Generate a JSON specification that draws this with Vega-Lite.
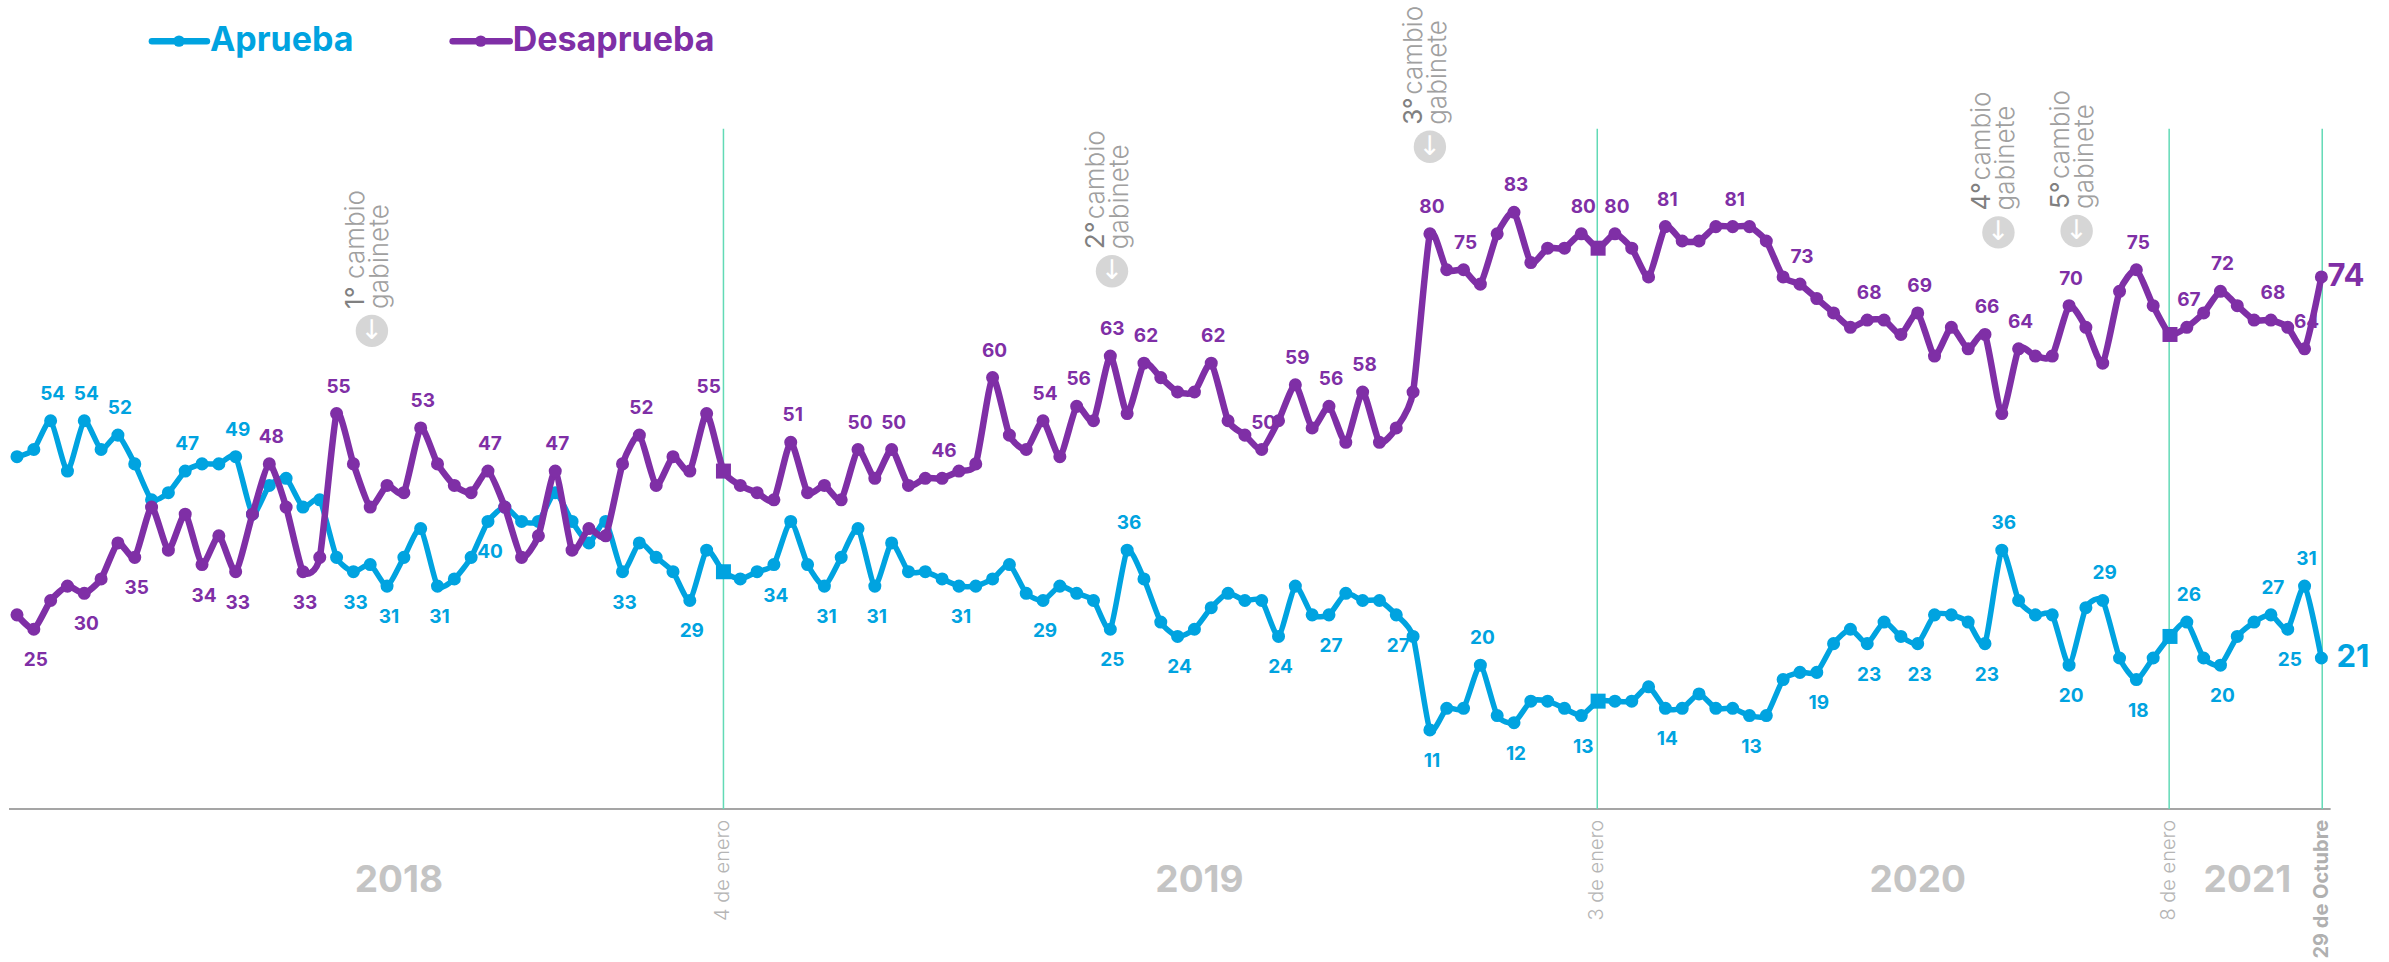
{"$schema":"https://vega.github.io/schema/vega-lite/v6.json","width":2389,"height":962,"padding":0,"autosize":{"type":"none"},"background":"white","config":{"view":{"stroke":null},"text":{"font":"Inter"}},
"datasets":{
"serie":[
{"n":0,"serie":"Aprueba","valor":49},{"n":1,"serie":"Aprueba","valor":50},{"n":2,"serie":"Aprueba","valor":54,"lado":"arriba"},{"n":3,"serie":"Aprueba","valor":47},{"n":4,"serie":"Aprueba","valor":54,"lado":"arriba"},{"n":5,"serie":"Aprueba","valor":50},{"n":6,"serie":"Aprueba","valor":52,"lado":"arriba"},{"n":7,"serie":"Aprueba","valor":48},{"n":8,"serie":"Aprueba","valor":43},{"n":9,"serie":"Aprueba","valor":44},{"n":10,"serie":"Aprueba","valor":47,"lado":"arriba"},{"n":11,"serie":"Aprueba","valor":48},{"n":12,"serie":"Aprueba","valor":48},{"n":13,"serie":"Aprueba","valor":49,"lado":"arriba"},{"n":14,"serie":"Aprueba","valor":41},{"n":15,"serie":"Aprueba","valor":45},{"n":16,"serie":"Aprueba","valor":46},{"n":17,"serie":"Aprueba","valor":42},{"n":18,"serie":"Aprueba","valor":43},{"n":19,"serie":"Aprueba","valor":35},{"n":20,"serie":"Aprueba","valor":33,"lado":"abajo"},{"n":21,"serie":"Aprueba","valor":34},{"n":22,"serie":"Aprueba","valor":31,"lado":"abajo"},{"n":23,"serie":"Aprueba","valor":35},{"n":24,"serie":"Aprueba","valor":39},{"n":25,"serie":"Aprueba","valor":31,"lado":"abajo"},{"n":26,"serie":"Aprueba","valor":32},{"n":27,"serie":"Aprueba","valor":35},{"n":28,"serie":"Aprueba","valor":40,"lado":"abajo"},{"n":29,"serie":"Aprueba","valor":42},{"n":30,"serie":"Aprueba","valor":40},{"n":31,"serie":"Aprueba","valor":40},{"n":32,"serie":"Aprueba","valor":44},{"n":33,"serie":"Aprueba","valor":40},{"n":34,"serie":"Aprueba","valor":37},{"n":35,"serie":"Aprueba","valor":40},{"n":36,"serie":"Aprueba","valor":33,"lado":"abajo"},{"n":37,"serie":"Aprueba","valor":37},{"n":38,"serie":"Aprueba","valor":35},{"n":39,"serie":"Aprueba","valor":33},{"n":40,"serie":"Aprueba","valor":29,"lado":"abajo"},{"n":41,"serie":"Aprueba","valor":36},{"n":42,"serie":"Aprueba","valor":33},{"n":43,"serie":"Aprueba","valor":32},{"n":44,"serie":"Aprueba","valor":33},{"n":45,"serie":"Aprueba","valor":34,"lado":"abajo"},{"n":46,"serie":"Aprueba","valor":40},{"n":47,"serie":"Aprueba","valor":34},{"n":48,"serie":"Aprueba","valor":31,"lado":"abajo"},{"n":49,"serie":"Aprueba","valor":35},{"n":50,"serie":"Aprueba","valor":39},{"n":51,"serie":"Aprueba","valor":31,"lado":"abajo"},{"n":52,"serie":"Aprueba","valor":37},{"n":53,"serie":"Aprueba","valor":33},{"n":54,"serie":"Aprueba","valor":33},{"n":55,"serie":"Aprueba","valor":32},{"n":56,"serie":"Aprueba","valor":31,"lado":"abajo"},{"n":57,"serie":"Aprueba","valor":31},{"n":58,"serie":"Aprueba","valor":32},{"n":59,"serie":"Aprueba","valor":34},{"n":60,"serie":"Aprueba","valor":30},{"n":61,"serie":"Aprueba","valor":29,"lado":"abajo"},{"n":62,"serie":"Aprueba","valor":31},{"n":63,"serie":"Aprueba","valor":30},{"n":64,"serie":"Aprueba","valor":29},{"n":65,"serie":"Aprueba","valor":25,"lado":"abajo"},{"n":66,"serie":"Aprueba","valor":36,"lado":"arriba"},{"n":67,"serie":"Aprueba","valor":32},{"n":68,"serie":"Aprueba","valor":26},{"n":69,"serie":"Aprueba","valor":24,"lado":"abajo"},{"n":70,"serie":"Aprueba","valor":25},{"n":71,"serie":"Aprueba","valor":28},{"n":72,"serie":"Aprueba","valor":30},{"n":73,"serie":"Aprueba","valor":29},{"n":74,"serie":"Aprueba","valor":29},{"n":75,"serie":"Aprueba","valor":24,"lado":"abajo"},{"n":76,"serie":"Aprueba","valor":31},{"n":77,"serie":"Aprueba","valor":27},{"n":78,"serie":"Aprueba","valor":27,"lado":"abajo"},{"n":79,"serie":"Aprueba","valor":30},{"n":80,"serie":"Aprueba","valor":29},{"n":81,"serie":"Aprueba","valor":29},{"n":82,"serie":"Aprueba","valor":27,"lado":"abajo"},{"n":83,"serie":"Aprueba","valor":24},{"n":84,"serie":"Aprueba","valor":11,"lado":"abajo"},{"n":85,"serie":"Aprueba","valor":14},{"n":86,"serie":"Aprueba","valor":14},{"n":87,"serie":"Aprueba","valor":20,"lado":"arriba"},{"n":88,"serie":"Aprueba","valor":13},{"n":89,"serie":"Aprueba","valor":12,"lado":"abajo"},{"n":90,"serie":"Aprueba","valor":15},{"n":91,"serie":"Aprueba","valor":15},{"n":92,"serie":"Aprueba","valor":14},{"n":93,"serie":"Aprueba","valor":13,"lado":"abajo"},{"n":94,"serie":"Aprueba","valor":15},{"n":95,"serie":"Aprueba","valor":15},{"n":96,"serie":"Aprueba","valor":15},{"n":97,"serie":"Aprueba","valor":17},{"n":98,"serie":"Aprueba","valor":14,"lado":"abajo"},{"n":99,"serie":"Aprueba","valor":14},{"n":100,"serie":"Aprueba","valor":16},{"n":101,"serie":"Aprueba","valor":14},{"n":102,"serie":"Aprueba","valor":14},{"n":103,"serie":"Aprueba","valor":13,"lado":"abajo"},{"n":104,"serie":"Aprueba","valor":13},{"n":105,"serie":"Aprueba","valor":18},{"n":106,"serie":"Aprueba","valor":19},{"n":107,"serie":"Aprueba","valor":19,"lado":"abajo"},{"n":108,"serie":"Aprueba","valor":23},{"n":109,"serie":"Aprueba","valor":25},{"n":110,"serie":"Aprueba","valor":23,"lado":"abajo"},{"n":111,"serie":"Aprueba","valor":26},{"n":112,"serie":"Aprueba","valor":24},{"n":113,"serie":"Aprueba","valor":23,"lado":"abajo"},{"n":114,"serie":"Aprueba","valor":27},{"n":115,"serie":"Aprueba","valor":27},{"n":116,"serie":"Aprueba","valor":26},{"n":117,"serie":"Aprueba","valor":23,"lado":"abajo"},{"n":118,"serie":"Aprueba","valor":36,"lado":"arriba"},{"n":119,"serie":"Aprueba","valor":29},{"n":120,"serie":"Aprueba","valor":27},{"n":121,"serie":"Aprueba","valor":27},{"n":122,"serie":"Aprueba","valor":20,"lado":"abajo"},{"n":123,"serie":"Aprueba","valor":28},{"n":124,"serie":"Aprueba","valor":29,"lado":"arriba"},{"n":125,"serie":"Aprueba","valor":21},{"n":126,"serie":"Aprueba","valor":18,"lado":"abajo"},{"n":127,"serie":"Aprueba","valor":21},{"n":128,"serie":"Aprueba","valor":24},{"n":129,"serie":"Aprueba","valor":26,"lado":"arriba"},{"n":130,"serie":"Aprueba","valor":21},{"n":131,"serie":"Aprueba","valor":20,"lado":"abajo"},{"n":132,"serie":"Aprueba","valor":24},{"n":133,"serie":"Aprueba","valor":26},{"n":134,"serie":"Aprueba","valor":27,"lado":"arriba"},{"n":135,"serie":"Aprueba","valor":25,"lado":"abajo"},{"n":136,"serie":"Aprueba","valor":31,"lado":"arriba"},{"n":137,"serie":"Aprueba","valor":21,"lado":"final"},
{"n":0,"serie":"Desaprueba","valor":27},{"n":1,"serie":"Desaprueba","valor":25,"lado":"abajo"},{"n":2,"serie":"Desaprueba","valor":29},{"n":3,"serie":"Desaprueba","valor":31},{"n":4,"serie":"Desaprueba","valor":30,"lado":"abajo"},{"n":5,"serie":"Desaprueba","valor":32},{"n":6,"serie":"Desaprueba","valor":37},{"n":7,"serie":"Desaprueba","valor":35,"lado":"abajo"},{"n":8,"serie":"Desaprueba","valor":42},{"n":9,"serie":"Desaprueba","valor":36},{"n":10,"serie":"Desaprueba","valor":41},{"n":11,"serie":"Desaprueba","valor":34,"lado":"abajo"},{"n":12,"serie":"Desaprueba","valor":38},{"n":13,"serie":"Desaprueba","valor":33,"lado":"abajo"},{"n":14,"serie":"Desaprueba","valor":41},{"n":15,"serie":"Desaprueba","valor":48,"lado":"arriba"},{"n":16,"serie":"Desaprueba","valor":42},{"n":17,"serie":"Desaprueba","valor":33,"lado":"abajo"},{"n":18,"serie":"Desaprueba","valor":35},{"n":19,"serie":"Desaprueba","valor":55,"lado":"arriba"},{"n":20,"serie":"Desaprueba","valor":48},{"n":21,"serie":"Desaprueba","valor":42},{"n":22,"serie":"Desaprueba","valor":45},{"n":23,"serie":"Desaprueba","valor":44},{"n":24,"serie":"Desaprueba","valor":53,"lado":"arriba"},{"n":25,"serie":"Desaprueba","valor":48},{"n":26,"serie":"Desaprueba","valor":45},{"n":27,"serie":"Desaprueba","valor":44},{"n":28,"serie":"Desaprueba","valor":47,"lado":"arriba"},{"n":29,"serie":"Desaprueba","valor":42},{"n":30,"serie":"Desaprueba","valor":35},{"n":31,"serie":"Desaprueba","valor":38},{"n":32,"serie":"Desaprueba","valor":47,"lado":"arriba"},{"n":33,"serie":"Desaprueba","valor":36},{"n":34,"serie":"Desaprueba","valor":39},{"n":35,"serie":"Desaprueba","valor":38},{"n":36,"serie":"Desaprueba","valor":48},{"n":37,"serie":"Desaprueba","valor":52,"lado":"arriba"},{"n":38,"serie":"Desaprueba","valor":45},{"n":39,"serie":"Desaprueba","valor":49},{"n":40,"serie":"Desaprueba","valor":47},{"n":41,"serie":"Desaprueba","valor":55,"lado":"arriba"},{"n":42,"serie":"Desaprueba","valor":47},{"n":43,"serie":"Desaprueba","valor":45},{"n":44,"serie":"Desaprueba","valor":44},{"n":45,"serie":"Desaprueba","valor":43},{"n":46,"serie":"Desaprueba","valor":51,"lado":"arriba"},{"n":47,"serie":"Desaprueba","valor":44},{"n":48,"serie":"Desaprueba","valor":45},{"n":49,"serie":"Desaprueba","valor":43},{"n":50,"serie":"Desaprueba","valor":50,"lado":"arriba"},{"n":51,"serie":"Desaprueba","valor":46},{"n":52,"serie":"Desaprueba","valor":50,"lado":"arriba"},{"n":53,"serie":"Desaprueba","valor":45},{"n":54,"serie":"Desaprueba","valor":46},{"n":55,"serie":"Desaprueba","valor":46,"lado":"arriba"},{"n":56,"serie":"Desaprueba","valor":47},{"n":57,"serie":"Desaprueba","valor":48},{"n":58,"serie":"Desaprueba","valor":60,"lado":"arriba"},{"n":59,"serie":"Desaprueba","valor":52},{"n":60,"serie":"Desaprueba","valor":50},{"n":61,"serie":"Desaprueba","valor":54,"lado":"arriba"},{"n":62,"serie":"Desaprueba","valor":49},{"n":63,"serie":"Desaprueba","valor":56,"lado":"arriba"},{"n":64,"serie":"Desaprueba","valor":54},{"n":65,"serie":"Desaprueba","valor":63,"lado":"arriba"},{"n":66,"serie":"Desaprueba","valor":55},{"n":67,"serie":"Desaprueba","valor":62,"lado":"arriba"},{"n":68,"serie":"Desaprueba","valor":60},{"n":69,"serie":"Desaprueba","valor":58},{"n":70,"serie":"Desaprueba","valor":58},{"n":71,"serie":"Desaprueba","valor":62,"lado":"arriba"},{"n":72,"serie":"Desaprueba","valor":54},{"n":73,"serie":"Desaprueba","valor":52},{"n":74,"serie":"Desaprueba","valor":50,"lado":"arriba"},{"n":75,"serie":"Desaprueba","valor":54},{"n":76,"serie":"Desaprueba","valor":59,"lado":"arriba"},{"n":77,"serie":"Desaprueba","valor":53},{"n":78,"serie":"Desaprueba","valor":56,"lado":"arriba"},{"n":79,"serie":"Desaprueba","valor":51},{"n":80,"serie":"Desaprueba","valor":58,"lado":"arriba"},{"n":81,"serie":"Desaprueba","valor":51},{"n":82,"serie":"Desaprueba","valor":53},{"n":83,"serie":"Desaprueba","valor":58},{"n":84,"serie":"Desaprueba","valor":80,"lado":"arriba"},{"n":85,"serie":"Desaprueba","valor":75},{"n":86,"serie":"Desaprueba","valor":75,"lado":"arriba"},{"n":87,"serie":"Desaprueba","valor":73},{"n":88,"serie":"Desaprueba","valor":80},{"n":89,"serie":"Desaprueba","valor":83,"lado":"arriba"},{"n":90,"serie":"Desaprueba","valor":76},{"n":91,"serie":"Desaprueba","valor":78},{"n":92,"serie":"Desaprueba","valor":78},{"n":93,"serie":"Desaprueba","valor":80,"lado":"arriba"},{"n":94,"serie":"Desaprueba","valor":78},{"n":95,"serie":"Desaprueba","valor":80,"lado":"arriba"},{"n":96,"serie":"Desaprueba","valor":78},{"n":97,"serie":"Desaprueba","valor":74},{"n":98,"serie":"Desaprueba","valor":81,"lado":"arriba"},{"n":99,"serie":"Desaprueba","valor":79},{"n":100,"serie":"Desaprueba","valor":79},{"n":101,"serie":"Desaprueba","valor":81},{"n":102,"serie":"Desaprueba","valor":81,"lado":"arriba"},{"n":103,"serie":"Desaprueba","valor":81},{"n":104,"serie":"Desaprueba","valor":79},{"n":105,"serie":"Desaprueba","valor":74},{"n":106,"serie":"Desaprueba","valor":73,"lado":"arriba"},{"n":107,"serie":"Desaprueba","valor":71},{"n":108,"serie":"Desaprueba","valor":69},{"n":109,"serie":"Desaprueba","valor":67},{"n":110,"serie":"Desaprueba","valor":68,"lado":"arriba"},{"n":111,"serie":"Desaprueba","valor":68},{"n":112,"serie":"Desaprueba","valor":66},{"n":113,"serie":"Desaprueba","valor":69,"lado":"arriba"},{"n":114,"serie":"Desaprueba","valor":63},{"n":115,"serie":"Desaprueba","valor":67},{"n":116,"serie":"Desaprueba","valor":64},{"n":117,"serie":"Desaprueba","valor":66,"lado":"arriba"},{"n":118,"serie":"Desaprueba","valor":55},{"n":119,"serie":"Desaprueba","valor":64,"lado":"arriba"},{"n":120,"serie":"Desaprueba","valor":63},{"n":121,"serie":"Desaprueba","valor":63},{"n":122,"serie":"Desaprueba","valor":70,"lado":"arriba"},{"n":123,"serie":"Desaprueba","valor":67},{"n":124,"serie":"Desaprueba","valor":62},{"n":125,"serie":"Desaprueba","valor":72},{"n":126,"serie":"Desaprueba","valor":75,"lado":"arriba"},{"n":127,"serie":"Desaprueba","valor":70},{"n":128,"serie":"Desaprueba","valor":66},{"n":129,"serie":"Desaprueba","valor":67,"lado":"arriba"},{"n":130,"serie":"Desaprueba","valor":69},{"n":131,"serie":"Desaprueba","valor":72,"lado":"arriba"},{"n":132,"serie":"Desaprueba","valor":70},{"n":133,"serie":"Desaprueba","valor":68},{"n":134,"serie":"Desaprueba","valor":68,"lado":"arriba"},{"n":135,"serie":"Desaprueba","valor":67},{"n":136,"serie":"Desaprueba","valor":64,"lado":"arriba"},{"n":137,"serie":"Desaprueba","valor":74,"lado":"final"}
],
"cambios":[
{"n":21.1,"valor":66.5,"orden":"1°","a":"cambio","b":"gabinete","flecha":"↓"},
{"n":65.1,"valor":74.8,"orden":"2°","a":"cambio","b":"gabinete","flecha":"↓"},
{"n":84,"valor":92.1,"orden":"3°","a":"cambio","b":"gabinete","flecha":"↓"},
{"n":117.8,"valor":80.2,"orden":"4°","a":"cambio","b":"gabinete","flecha":"↓"},
{"n":122.45,"valor":80.4,"orden":"5°","a":"cambio","b":"gabinete","flecha":"↓"}
],
"fechas":[
{"n":42,"tope":94.6,"base":0,"pie":-1.5,"fecha":"4 de enero"},
{"n":93.95,"tope":94.6,"base":0,"pie":-1.5,"fecha":"3 de enero"},
{"n":127.95,"tope":94.6,"base":0,"pie":-1.5,"fecha":"8 de enero"}
],
"anios":[
{"n":22.7,"valor":-10,"anio":"2018"},{"n":70.3,"valor":-10,"anio":"2019"},{"n":113,"valor":-10,"anio":"2020"},{"n":132.6,"valor":-10,"anio":"2021"}
],
"leyenda":[
{"serie":"Aprueba","n1":8.02,"n2":11.29,"m":9.63,"t":11.47,"valor":106.8},
{"serie":"Desaprueba","n1":25.9,"n2":29.29,"m":27.57,"t":29.47,"valor":106.8}
]
},
"layer":[
{"data":{"values":[{"a":-0.475,"b":137.55,"v":0}]},"mark":{"type":"rule","color":"#a5a5a5","strokeWidth":2},"encoding":{"x":{"field":"a","type":"quantitative","scale":{"domain":[-1.0107,141.02],"nice":false,"zero":false},"axis":null},"x2":{"field":"b"},"y":{"field":"v","type":"quantitative","scale":{"domain":[-21.28,112.52],"nice":false,"zero":false},"axis":null}}},
{"data":{"name":"fechas"},"mark":{"type":"rule","color":"#62dab6","strokeWidth":1.5},"encoding":{"x":{"field":"n","type":"quantitative"},"y":{"field":"tope","type":"quantitative"},"y2":{"field":"base"}}},
{"data":{"values":[{"n":137.05,"tope":94.6,"base":0}]},"mark":{"type":"rule","color":"#62dab6","strokeWidth":1.5},"encoding":{"x":{"field":"n","type":"quantitative"},"y":{"field":"tope","type":"quantitative"},"y2":{"field":"base"}}},
{"data":{"name":"serie"},"transform":[{"filter":"datum.serie==='Aprueba'"}],"mark":{"type":"line","color":"#00a3e0","strokeWidth":5.5,"interpolate":"cardinal","tension":0.4,"strokeCap":"round"},"encoding":{"x":{"field":"n","type":"quantitative"},"y":{"field":"valor","type":"quantitative"}}},
{"data":{"name":"serie"},"transform":[{"filter":"datum.serie==='Aprueba' && datum.n!==42 && datum.n!==94 && datum.n!==128"}],"mark":{"type":"point","shape":"circle","filled":true,"opacity":1,"color":"#00a3e0","size":170},"encoding":{"x":{"field":"n","type":"quantitative"},"y":{"field":"valor","type":"quantitative"}}},
{"data":{"name":"serie"},"transform":[{"filter":"datum.serie==='Aprueba' && (datum.n===42 || datum.n===94 || datum.n===128)"}],"mark":{"type":"point","shape":"square","filled":true,"opacity":1,"color":"#00a3e0","size":225},"encoding":{"x":{"field":"n","type":"quantitative"},"y":{"field":"valor","type":"quantitative"}}},
{"data":{"name":"serie"},"transform":[{"filter":"datum.serie==='Desaprueba'"}],"mark":{"type":"line","color":"#7f2fa6","strokeWidth":6.5,"interpolate":"cardinal","tension":0.4,"strokeCap":"round"},"encoding":{"x":{"field":"n","type":"quantitative"},"y":{"field":"valor","type":"quantitative"}}},
{"data":{"name":"serie"},"transform":[{"filter":"datum.serie==='Desaprueba' && datum.n!==42 && datum.n!==94 && datum.n!==128"}],"mark":{"type":"point","shape":"circle","filled":true,"opacity":1,"color":"#7f2fa6","size":170},"encoding":{"x":{"field":"n","type":"quantitative"},"y":{"field":"valor","type":"quantitative"}}},
{"data":{"name":"serie"},"transform":[{"filter":"datum.serie==='Desaprueba' && (datum.n===42 || datum.n===94 || datum.n===128)"}],"mark":{"type":"point","shape":"square","filled":true,"opacity":1,"color":"#7f2fa6","size":225},"encoding":{"x":{"field":"n","type":"quantitative"},"y":{"field":"valor","type":"quantitative"}}},
{"data":{"name":"serie"},"transform":[{"filter":"datum.lado==='arriba'"}],"mark":{"type":"text","fontSize":19,"fontWeight":700,"dx":2,"dy":-27,"font":"Inter"},"encoding":{"x":{"field":"n","type":"quantitative"},"y":{"field":"valor","type":"quantitative"},"text":{"field":"valor","type":"quantitative"},"color":{"field":"serie","type":"nominal","scale":{"domain":["Aprueba","Desaprueba"],"range":["#00a3e0","#7f2fa6"]},"legend":null}}},
{"data":{"name":"serie"},"transform":[{"filter":"datum.lado==='abajo'"}],"mark":{"type":"text","fontSize":19,"fontWeight":700,"dx":2,"dy":31,"font":"Inter"},"encoding":{"x":{"field":"n","type":"quantitative"},"y":{"field":"valor","type":"quantitative"},"text":{"field":"valor","type":"quantitative"},"color":{"field":"serie","type":"nominal","legend":null}}},
{"data":{"name":"serie"},"transform":[{"filter":"datum.lado==='final' && datum.serie==='Desaprueba'"}],"mark":{"type":"text","fontSize":31,"fontWeight":700,"align":"left","dx":6,"font":"Inter","color":"#7f2fa6"},"encoding":{"x":{"field":"n","type":"quantitative"},"y":{"field":"valor","type":"quantitative"},"text":{"field":"valor","type":"quantitative"}}},
{"data":{"name":"serie"},"transform":[{"filter":"datum.lado==='final' && datum.serie==='Aprueba'"}],"mark":{"type":"text","fontSize":31,"fontWeight":700,"align":"left","dx":15,"font":"Inter","color":"#00a3e0"},"encoding":{"x":{"field":"n","type":"quantitative"},"y":{"field":"valor","type":"quantitative"},"text":{"field":"valor","type":"quantitative"}}},
{"data":{"name":"cambios"},"mark":{"type":"point","shape":"circle","filled":true,"opacity":1,"color":"#d6d6d6","size":1050},"encoding":{"x":{"field":"n","type":"quantitative"},"y":{"field":"valor","type":"quantitative"}}},
{"data":{"name":"cambios"},"mark":{"type":"text","fontSize":27,"color":"#ffffff","fontWeight":400,"font":"DejaVu Sans"},"encoding":{"x":{"field":"n","type":"quantitative"},"y":{"field":"valor","type":"quantitative"},"text":{"field":"flecha"}}},
{"data":{"name":"cambios"},"mark":{"type":"text","fontSize":26,"fontWeight":400,"color":"#808080","angle":270,"align":"left","baseline":"middle","dx":22,"dy":-16,"font":"Inter"},"encoding":{"x":{"field":"n","type":"quantitative"},"y":{"field":"valor","type":"quantitative"},"text":{"field":"orden"}}},
{"data":{"name":"cambios"},"mark":{"type":"text","fontSize":26,"fontWeight":300,"color":"#a0a0a0","angle":270,"align":"left","baseline":"middle","dx":52,"dy":-16,"font":"Inter"},"encoding":{"x":{"field":"n","type":"quantitative"},"y":{"field":"valor","type":"quantitative"},"text":{"field":"a"}}},
{"data":{"name":"cambios"},"mark":{"type":"text","fontSize":26,"fontWeight":300,"color":"#a0a0a0","angle":270,"align":"left","baseline":"middle","dx":22,"dy":8,"font":"Inter"},"encoding":{"x":{"field":"n","type":"quantitative"},"y":{"field":"valor","type":"quantitative"},"text":{"field":"b"}}},
{"data":{"name":"fechas"},"mark":{"type":"text","fontSize":20,"fontWeight":300,"color":"#b5b5b5","angle":270,"align":"right","baseline":"middle","font":"Inter"},"encoding":{"x":{"field":"n","type":"quantitative"},"y":{"field":"pie","type":"quantitative"},"text":{"field":"fecha"}}},
{"data":{"values":[{"n":137.05,"pie":-1.5,"fecha":"29 de Octubre"}]},"mark":{"type":"text","fontSize":20,"fontWeight":700,"color":"#b0b0b0","angle":270,"align":"right","baseline":"middle","font":"Inter"},"encoding":{"x":{"field":"n","type":"quantitative"},"y":{"field":"pie","type":"quantitative"},"text":{"field":"fecha"}}},
{"data":{"name":"anios"},"mark":{"type":"text","fontSize":37,"fontWeight":700,"color":"#c4c4c4","font":"Inter"},"encoding":{"x":{"field":"n","type":"quantitative"},"y":{"field":"valor","type":"quantitative"},"text":{"field":"anio"}}},
{"data":{"name":"leyenda"},"mark":{"type":"rule","strokeWidth":6.5,"strokeCap":"round"},"encoding":{"x":{"field":"n1","type":"quantitative"},"x2":{"field":"n2"},"y":{"field":"valor","type":"quantitative"},"color":{"field":"serie","type":"nominal","legend":null}}},
{"data":{"name":"leyenda"},"mark":{"type":"point","shape":"circle","filled":true,"opacity":1,"size":130},"encoding":{"x":{"field":"m","type":"quantitative"},"y":{"field":"valor","type":"quantitative"},"color":{"field":"serie","type":"nominal","legend":null}}},
{"data":{"name":"leyenda"},"mark":{"type":"text","fontSize":34,"fontWeight":700,"align":"left","font":"Inter"},"encoding":{"x":{"field":"t","type":"quantitative"},"y":{"field":"valor","type":"quantitative"},"text":{"field":"serie"},"color":{"field":"serie","type":"nominal","legend":null}}}
]}
